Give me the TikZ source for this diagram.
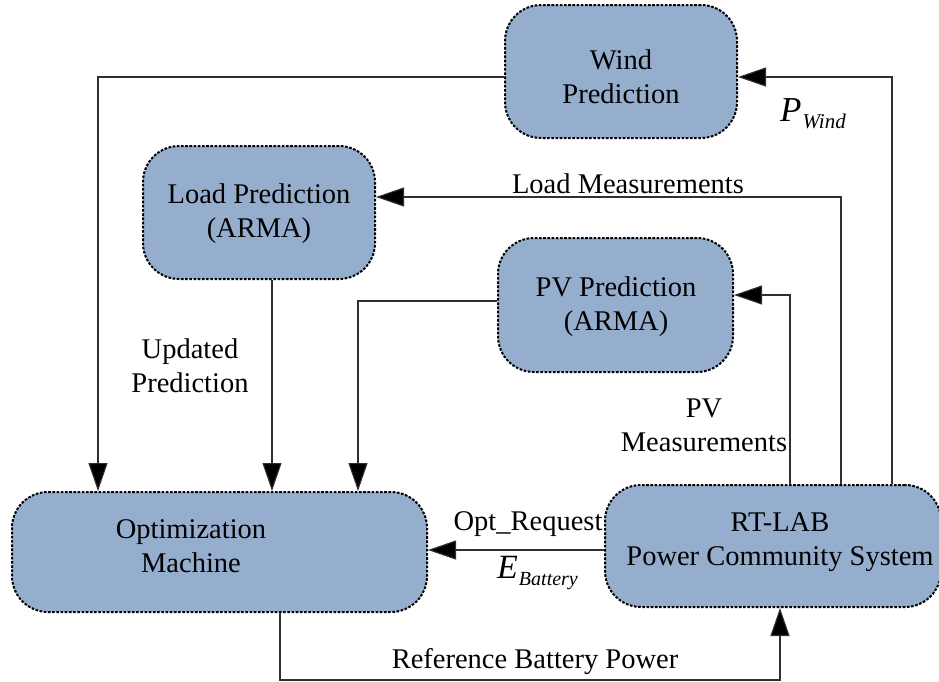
\documentclass[tikz,border=0pt]{standalone}
\usepackage{fontspec}
\setmainfont{Liberation Serif}
\usetikzlibrary{arrows.meta}
\definecolor{boxfill}{HTML}{95AECE}
\definecolor{linegray}{HTML}{303030}
\begin{document}
\begin{tikzpicture}[x=1pt,y=-1pt,
  box/.style={draw=black, fill=boxfill, line width=2pt, dash pattern=on 2.6pt off 1.6pt, rounded corners=36pt, inner sep=0pt},
  conn/.style={draw=linegray, line width=1.1pt, -{Triangle[length=28pt,width=19pt,fill=black]}},
  plain/.style={draw=linegray, line width=1.1pt},
  txt/.style={font=\fontsize{28.5}{34}\selectfont, align=center, inner sep=0pt, text=black},
  mathlbl/.style={inner sep=0pt, text=black},
]
\useasboundingbox (0,0) rectangle (939,681);

% boxes
\node[box, minimum width=232pt, minimum height=133pt] (wind) at (621,71.5) {};
\node[box, minimum width=232pt, minimum height=133pt] (load) at (259,212.5) {};
\node[box, minimum width=235pt, minimum height=134pt] (pv) at (615.5,305) {};
\node[box, minimum width=415pt, minimum height=120pt] (opt) at (219.5,552) {};
\node[box, minimum width=336pt, minimum height=122pt] (rt) at (773,546) {};

% box texts
\node[txt] (windt) at (621,77) {Wind\\Prediction};
\node[txt] (loadt) at (259,214) {Load Prediction\\(ARMA)};
\node[txt] (pvt) at (616,307) {PV Prediction\\(ARMA)};
\node[txt] (optt) at (191,546) {Optimization\\Machine};
\node[txt] (rtt) at (780,542) {RT-LAB\\Power Community System};

% bend coordinates
\coordinate (c1) at (98,77);
\coordinate (c2) at (892,77);
\coordinate (c3) at (841,197);
\coordinate (c4) at (790,295);
\coordinate (c5) at (358,301);
\coordinate (c6) at (280,680);
\coordinate (c7) at (780,680);
\coordinate (c8) at (272,400);
\coordinate (c9) at (500,550);

% connectors
\draw[conn] (wind.west |- c1) -- (c1) -- (c1 |- opt.north);
\draw[conn] (c2 |- rt.north) -- (c2) -- (wind.east |- c2);
\draw[conn] (c3 |- rt.north) -- (c3) -- (load.east |- c3);
\draw[conn] (c4 |- rt.north) -- (c4) -- (pv.east |- c4);
\draw[conn] (c8 |- load.south) -- (c8 |- opt.north);
\draw[conn] (pv.west |- c5) -- (c5) -- (c5 |- opt.north);
\draw[conn] (rt.west |- c9) -- (opt.east |- c9);
\draw[conn] (c6 |- opt.south) -- (c6) -- (c7) -- (c7 |- rt.south);

% labels
\node[mathlbl, anchor=base west] (pw) at (780,121) {\fontsize{35}{35}\selectfont\itshape P\kern1pt\raisebox{-7pt}{\fontsize{21}{21}\selectfont Wind}};
\node[txt, anchor=base] (lm) at (628,193) {Load Measurements};
\node[txt] (pvm) at (704,425) {PV\\Measurements};
\node[txt] (upd) at (190,366) {Updated\\Prediction};
\node[txt, anchor=base] (optreq) at (528,530) {Opt\_Request};
\node[mathlbl, anchor=base west] (eb) at (497,578) {\fontsize{34}{34}\selectfont\itshape E\kern1pt\raisebox{-7pt}{\fontsize{20}{20}\selectfont Battery}};
\node[txt, anchor=base] (rbp) at (535,668) {Reference Battery Power};
\end{tikzpicture}
\end{document}
